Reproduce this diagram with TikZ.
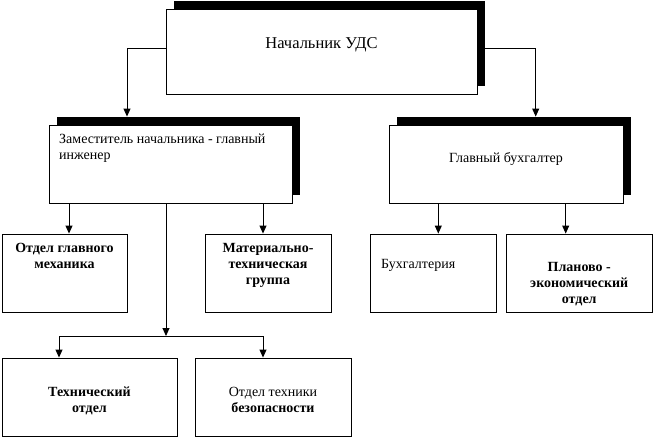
\documentclass[tikz,border=0pt]{standalone}
\usepackage{fontspec}
\setmainfont{Liberation Serif}
\usetikzlibrary{arrows.meta,shadows}

\begin{document}
\begin{tikzpicture}[x=1pt,y=1pt]
\tikzstyle{every node}+=[inner sep=0pt]
\tikzstyle{box}=[draw=black,line width=0.9pt,fill=white]
\tikzstyle{shad}=[drop shadow={shadow xshift=8pt,shadow yshift=8pt,opacity=1,fill=black}]
\tikzstyle{arr}=[draw=black,line width=0.9pt,-{Triangle[width=7pt,length=8pt]}]
\tikzstyle{txt}=[font=\fontsize{14}{16}\selectfont,align=center,anchor=base]
\tikzstyle{txtb}=[txt,font=\fontsize{14}{16}\selectfont\bfseries]
\useasboundingbox (0,0) rectangle (653,-437);
\node [box,shad,minimum width=311pt,minimum height=85pt] (nach) at (321.5,-51.5) {};
\node [box,shad,minimum width=243pt,minimum height=78pt] (zam) at (170.5,-164) {};
\node [box,shad,minimum width=234pt,minimum height=78pt] (glav) at (506,-164) {};
\node [box,minimum width=125pt,minimum height=78pt] (meh) at (64.5,-273) {};
\node [box,minimum width=126pt,minimum height=78pt] (mat) at (268,-273) {};
\node [box,minimum width=126pt,minimum height=78pt] (buh) at (433,-273) {};
\node [box,minimum width=146pt,minimum height=78pt] (plan) at (579.25,-273) {};
\node [box,minimum width=175pt,minimum height=78pt] (tex) at (89.5,-397) {};
\node [box,minimum width=156pt,minimum height=78pt] (bez) at (273,-397) {};
\node [txt,font=\fontsize{16.5}{16}\selectfont] (tnach) at (321.5,-48) {Начальник УДС};
\node [txt,anchor=base west,align=left] (tzam) at (59,-159) {Заместитель начальника - главный\\инженер};
\node [txt] (tglav) at (506,-162.5) {Главный бухгалтер};
\node [txtb] (tmeh) at (64.5,-268) {Отдел главного\\механика};
\node [txtb] (tmat) at (268,-284) {Материально-\\техническая\\группа};
\node [txt,anchor=base west] (tbuh) at (381,-268) {Бухгалтерия};
\node [txtb] (tplan) at (579.25,-303) {Планово -\\экономический\\отдел};
\node [txtb] (ttex) at (89.5,-412) {Технический\\отдел};
\node [txt] (tbez) at (273,-412) {Отдел техники\\{\bfseries безопасности}};
\coordinate (razv) at (166,-336);
\draw [arr] ([yshift=3.5pt]nach.west) -| ([xshift=-43.5pt,yshift=8pt]zam.north);
\draw [arr] ([yshift=3.5pt]nach.east) -| ([xshift=29.7pt,yshift=8pt]glav.north);
\draw [arr] ([xshift=-101.5pt]zam.south) -- ([xshift=4.5pt]meh.north);
\draw [arr] ([xshift=92.5pt]zam.south) -- ([xshift=-5pt]mat.north);
\draw [arr] ([xshift=-4.5pt]zam.south) -- (razv);
\draw [arr] (razv) -| ([xshift=-30.5pt]tex.north);
\draw [arr] (razv) -| ([xshift=-10pt]bez.north);
\draw [arr] ([xshift=-67.7pt]glav.south) -- ([xshift=5.3pt]buh.north);
\draw [arr] ([xshift=59.7pt]glav.south) -- ([xshift=-13.55pt]plan.north);
\end{tikzpicture}
\end{document}
